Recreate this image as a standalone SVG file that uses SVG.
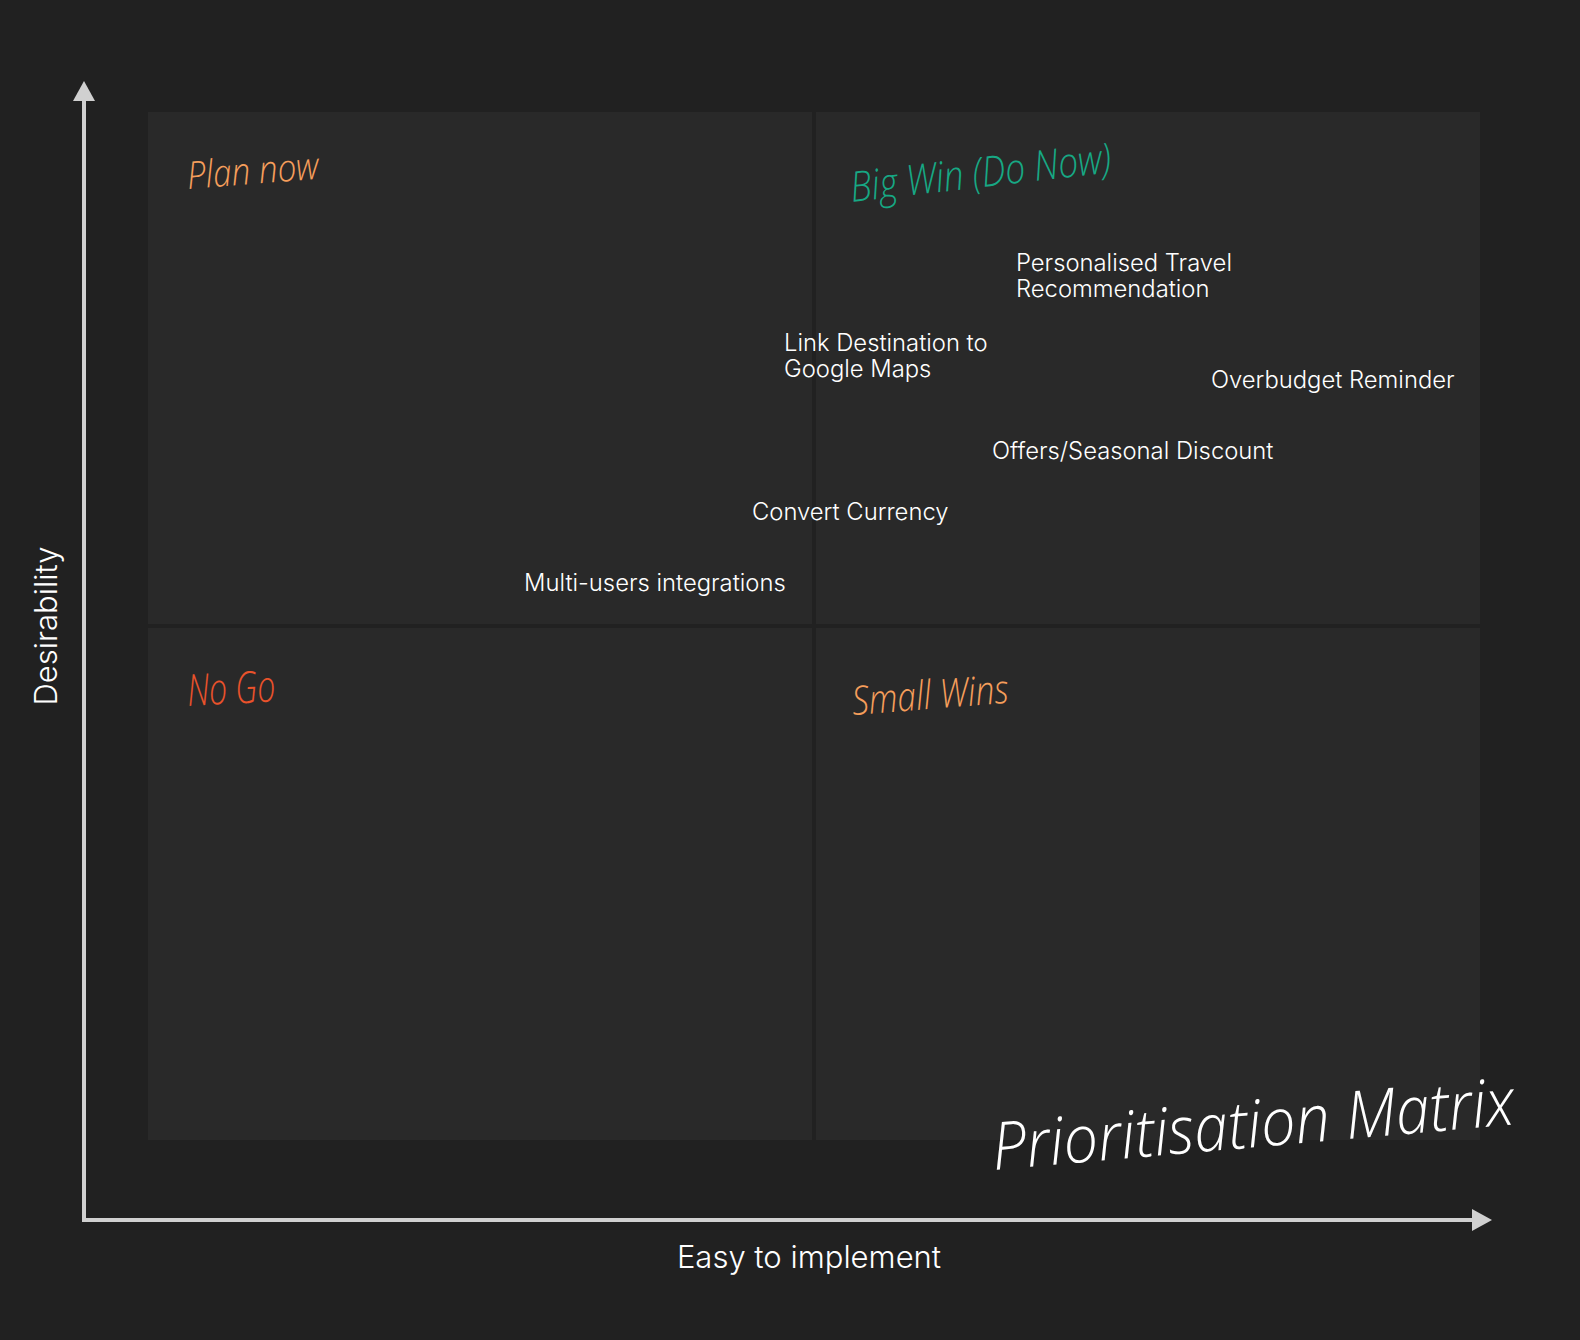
<svg xmlns="http://www.w3.org/2000/svg" width="1580" height="1340" viewBox="0 0 1580 1340">
  <style>
    .quad { fill: #292929; }
    .item { font-family: Inter, "Noto Sans", "Liberation Sans", sans-serif; font-size: 23.8px; font-weight: 300; fill: #ffffff; }
    .axislabel { font-family: Inter, "Noto Sans", "Liberation Sans", sans-serif; font-size: 31px; font-weight: 300; fill: #ffffff; }
    .hand { font-family: "Open Sans", "Noto Sans", "DejaVu Sans", sans-serif; font-style: italic; font-weight: 300; }
    .axis { stroke: #d0d0d0; stroke-width: 4; fill: none; }
  </style>
  <defs>
    <marker id="arrow" markerUnits="userSpaceOnUse" markerWidth="20" markerHeight="22" refX="0" refY="11" orient="auto" viewBox="0 0 20 22">
      <path d="M0,0 L20,11 L0,22 z" fill="#d0d0d0"/>
    </marker>
  </defs>
  <rect x="0" y="0" width="1580" height="1340" fill="#212121"/>

  <g id="quadrant-plan-now">
    <rect class="quad" x="148" y="112" width="664" height="512"/>
    <text class="hand" x="188" y="189" font-size="38" fill="#f59e5b" textLength="132" lengthAdjust="spacingAndGlyphs" transform="rotate(-4.5 188 189)">Plan now</text>
  </g>
  <g id="quadrant-big-win">
    <rect class="quad" x="816" y="112" width="664" height="512"/>
    <text class="hand" x="852" y="202" font-size="42" fill="#17a884" textLength="262" lengthAdjust="spacingAndGlyphs" transform="rotate(-6.5 852 202)">Big Win (Do Now)</text>
  </g>
  <g id="quadrant-no-go">
    <rect class="quad" x="148" y="628" width="664" height="512"/>
    <text class="hand" x="188" y="706" font-size="44" fill="#e9522b" textLength="88" lengthAdjust="spacingAndGlyphs" transform="rotate(-3 188 706)">No Go</text>
  </g>
  <g id="quadrant-small-wins">
    <rect class="quad" x="816" y="628" width="664" height="512"/>
    <text class="hand" x="853" y="715" font-size="40" fill="#f59e5b" textLength="157" lengthAdjust="spacingAndGlyphs" transform="rotate(-4.5 853 715)">Small Wins</text>
  </g>

  <g id="item-personalised-travel">
    <text class="item" x="1016" y="271">Personalised Travel<tspan x="1016" dy="26">Recommendation</tspan></text>
  </g>
  <g id="item-link-destination">
    <text class="item" x="784" y="351">Link Destination to<tspan x="784" dy="26">Google Maps</tspan></text>
  </g>
  <g id="item-overbudget">
    <text class="item" x="1211" y="388">Overbudget Reminder</text>
  </g>
  <g id="item-offers">
    <text class="item" x="992" y="459">Offers/Seasonal Discount</text>
  </g>
  <g id="item-convert-currency">
    <text class="item" x="752" y="520">Convert Currency</text>
  </g>
  <g id="item-multi-users">
    <text class="item" x="524" y="591">Multi-users integrations</text>
  </g>

  <g id="connectors">
    <line class="axis" x1="84" y1="1222" x2="84" y2="101" marker-end="url(#arrow)"/>
    <line class="axis" x1="82" y1="1220" x2="1472" y2="1220" marker-end="url(#arrow)"/>
  </g>

  <g id="label-x-axis">
    <text class="axislabel" x="809" y="1268" text-anchor="middle">Easy to implement</text>
  </g>
  <g id="label-y-axis">
    <text class="axislabel" x="0" y="0" text-anchor="middle" transform="translate(57 626) rotate(-90)">Desirability</text>
  </g>

  <g id="title">
    <text class="hand" x="994" y="1170" font-size="66" fill="#ffffff" textLength="524" lengthAdjust="spacingAndGlyphs" transform="rotate(-5 994 1170)">Prioritisation Matrix</text>
  </g>
</svg>
